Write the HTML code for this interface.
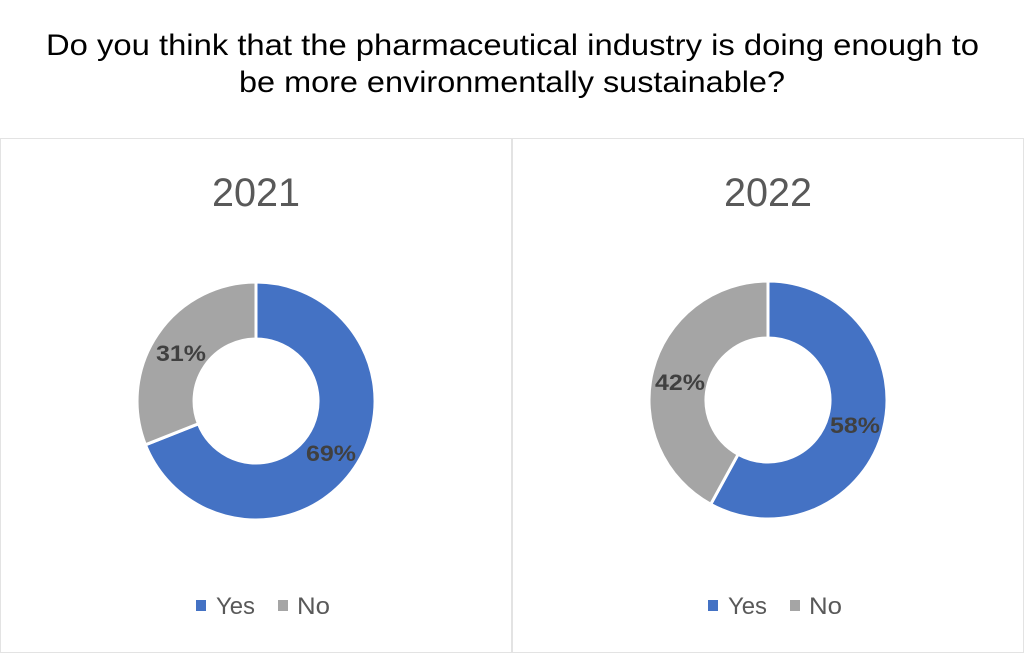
<!DOCTYPE html>
<html><head><meta charset="utf-8"><style>
body{margin:0;background:#fff;}
svg{display:block;font-family:"Liberation Sans",sans-serif;}
</style></head><body>
<svg width="1024" height="653" viewBox="0 0 1024 653">
<rect width="1024" height="653" fill="#fff"/>
<text x="46" y="55" font-size="30" fill="#000" textLength="933" lengthAdjust="spacingAndGlyphs">Do you think that the pharmaceutical industry is doing enough to</text>
<text x="239" y="92" font-size="30" fill="#000" textLength="546" lengthAdjust="spacingAndGlyphs">be more environmentally sustainable?</text>
<rect x="0.5" y="138.5" width="511" height="514" fill="none" stroke="#e3e3e3"/>
<rect x="512.5" y="138.5" width="511" height="514" fill="none" stroke="#e3e3e3"/>
<text x="212" y="206" font-size="40" fill="#595959" textLength="88" lengthAdjust="spacingAndGlyphs">2021</text>
<text x="724" y="206" font-size="40" fill="#595959" textLength="88" lengthAdjust="spacingAndGlyphs">2022</text>
<g stroke="#fff" stroke-width="3" stroke-linejoin="round">
<path d="M256 282 A119 119 0 1 1 145.4 444.8 L198.4 423.8 A62 62 0 1 0 256 339 Z" fill="#4472c4"/>
<path d="M145.4 444.8 A119 119 0 0 1 256 282 L256 339 A62 62 0 0 0 198.4 423.8 Z" fill="#a5a5a5"/>
<path d="M768 281 A119 119 0 1 1 710.7 504.3 L738.1 454.3 A62 62 0 1 0 768 338 Z" fill="#4472c4"/>
<path d="M710.7 504.3 A119 119 0 0 1 768 281 L768 338 A62 62 0 0 0 738.1 454.3 Z" fill="#a5a5a5"/>
</g>
<g font-size="22" font-weight="bold" fill="#404040">
<text x="306" y="461" textLength="50" lengthAdjust="spacingAndGlyphs">69%</text>
<text x="156" y="361" textLength="50" lengthAdjust="spacingAndGlyphs">31%</text>
<text x="655" y="390" textLength="50" lengthAdjust="spacingAndGlyphs">42%</text>
<text x="830" y="433" textLength="50" lengthAdjust="spacingAndGlyphs">58%</text>
</g>
<g font-size="24" fill="#595959">
<rect x="196" y="600" width="10" height="11" fill="#4472c4"/>
<text x="216" y="614" textLength="39" lengthAdjust="spacingAndGlyphs">Yes</text>
<rect x="278" y="600" width="10" height="11" fill="#a5a5a5"/>
<text x="297" y="614" textLength="33" lengthAdjust="spacingAndGlyphs">No</text>
<rect x="708" y="600" width="10" height="11" fill="#4472c4"/>
<text x="728" y="614" textLength="39" lengthAdjust="spacingAndGlyphs">Yes</text>
<rect x="790" y="600" width="10" height="11" fill="#a5a5a5"/>
<text x="809" y="614" textLength="33" lengthAdjust="spacingAndGlyphs">No</text>
</g>
</svg>
</body></html>
